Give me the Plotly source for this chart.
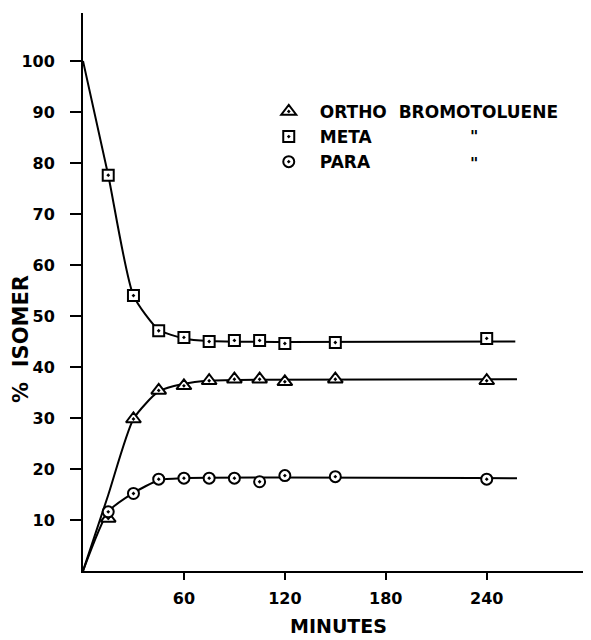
import plotly.graph_objects as go

# measured points (minutes, % isomer)
minutes = [15, 30, 45, 60, 75, 90, 105, 120, 150, 240]
ortho = [10.3, 29.8, 35.4, 36.3, 37.3, 37.6, 37.6, 37.1, 37.6, 37.3]
meta = [77.6, 54.0, 47.1, 45.8, 45.0, 45.2, 45.2, 44.6, 44.8, 45.6]
para = [11.6, 15.2, 18.0, 18.2, 18.2, 18.2, 17.5, 18.7, 18.5, 18.0]

# hand-drawn smooth curves (knots)
ortho_curve_x = [0, 15, 30, 45, 60, 75, 105, 258]
ortho_curve_y = [0, 14.9, 29.8, 35.2, 36.7, 37.3, 37.5, 37.6]
meta_curve_x = [0, 15, 30, 45, 60, 75, 120, 257]
meta_curve_y = [100, 77.6, 54.0, 47.3, 45.6, 45.1, 44.9, 45.0]
para_curve_x = [0, 15, 30, 45, 60, 258]
para_curve_y = [0, 11.6, 15.3, 17.8, 18.2, 18.2]

x_ticks = [60, 120, 180, 240]
y_ticks = [10, 20, 30, 40, 50, 60, 70, 80, 90, 100]

FONT = "DejaVu Sans"
fig = go.Figure()

for cx, cy in [(meta_curve_x, meta_curve_y), (ortho_curve_x, ortho_curve_y), (para_curve_x, para_curve_y)]:
    fig.add_trace(go.Scatter(x=cx, y=cy, mode="lines", showlegend=False, hoverinfo="skip",
                             line=dict(color="black", width=2, shape="spline", smoothing=0.6)))

series = [
    ("ORTHO  BROMOTOLUENE", ortho, "triangle-up-dot", 13),
    ("META", meta, "square-dot", 11),
    ("PARA", para, "circle-dot", 11),
]
for i, (name, ys, sym, sz) in enumerate(series):
    fig.add_trace(go.Scatter(x=minutes, y=ys, mode="markers", name=name, legendgroup=str(i),
                             marker=dict(symbol=sym, size=sz, color="white",
                                         line=dict(color="black", width=2))))

fig.update_layout(
    width=583, height=632,
    margin=dict(l=75, r=0, t=5, b=69, autoexpand=False),
    plot_bgcolor="white", paper_bgcolor="white",
    font=dict(family=FONT, color="black", size=15, weight="bold"),
    showlegend=True,
    legend=dict(x=0.344, y=0.855, xanchor="left", yanchor="top", bgcolor="rgba(0,0,0,0)",
                traceorder="grouped", tracegroupgap=0, itemwidth=52,
                font=dict(family=FONT, size=17, weight="bold", color="black")),
    xaxis=dict(range=[0, 302], showgrid=False, zeroline=False, showline=True, automargin=False,
               linecolor="black", linewidth=2, ticks="outside", ticklen=7, tickwidth=2,
               tickcolor="black", tickvals=x_ticks, ticktext=[str(v) for v in x_ticks],
               ticklabelstandoff=5,
               tickfont=dict(family=FONT, size=16, weight="bold")),
    yaxis=dict(range=[0, 109.4], showgrid=False, zeroline=False, showline=True, automargin=False,
               linecolor="black", linewidth=2, ticks="outside", ticklen=11, tickwidth=2,
               tickcolor="black", tickvals=y_ticks, ticktext=[str(v) for v in y_ticks],
               ticklabelstandoff=12,
               tickfont=dict(family=FONT, size=16, weight="bold")),
)

fig.add_annotation(text="%  ISOMER", xref="paper", yref="paper", x=-0.122, y=0.416,
                   xanchor="center", yanchor="middle",
                   showarrow=False, textangle=-90,
                   font=dict(family=FONT, size=21, weight="bold"))
fig.add_annotation(text="MINUTES", xref="paper", yref="paper", x=0.502, y=-0.099,
                   xanchor="center", yanchor="middle",
                   showarrow=False, font=dict(family=FONT, size=19, weight="bold"))
for yy in [0.778, 0.731]:
    fig.add_annotation(text='"', xref="paper", yref="paper", x=0.77, y=yy,
                       xanchor="center", yanchor="middle",
                       showarrow=False, font=dict(family=FONT, size=16, weight="bold"))

fig.write_html("out.html")
